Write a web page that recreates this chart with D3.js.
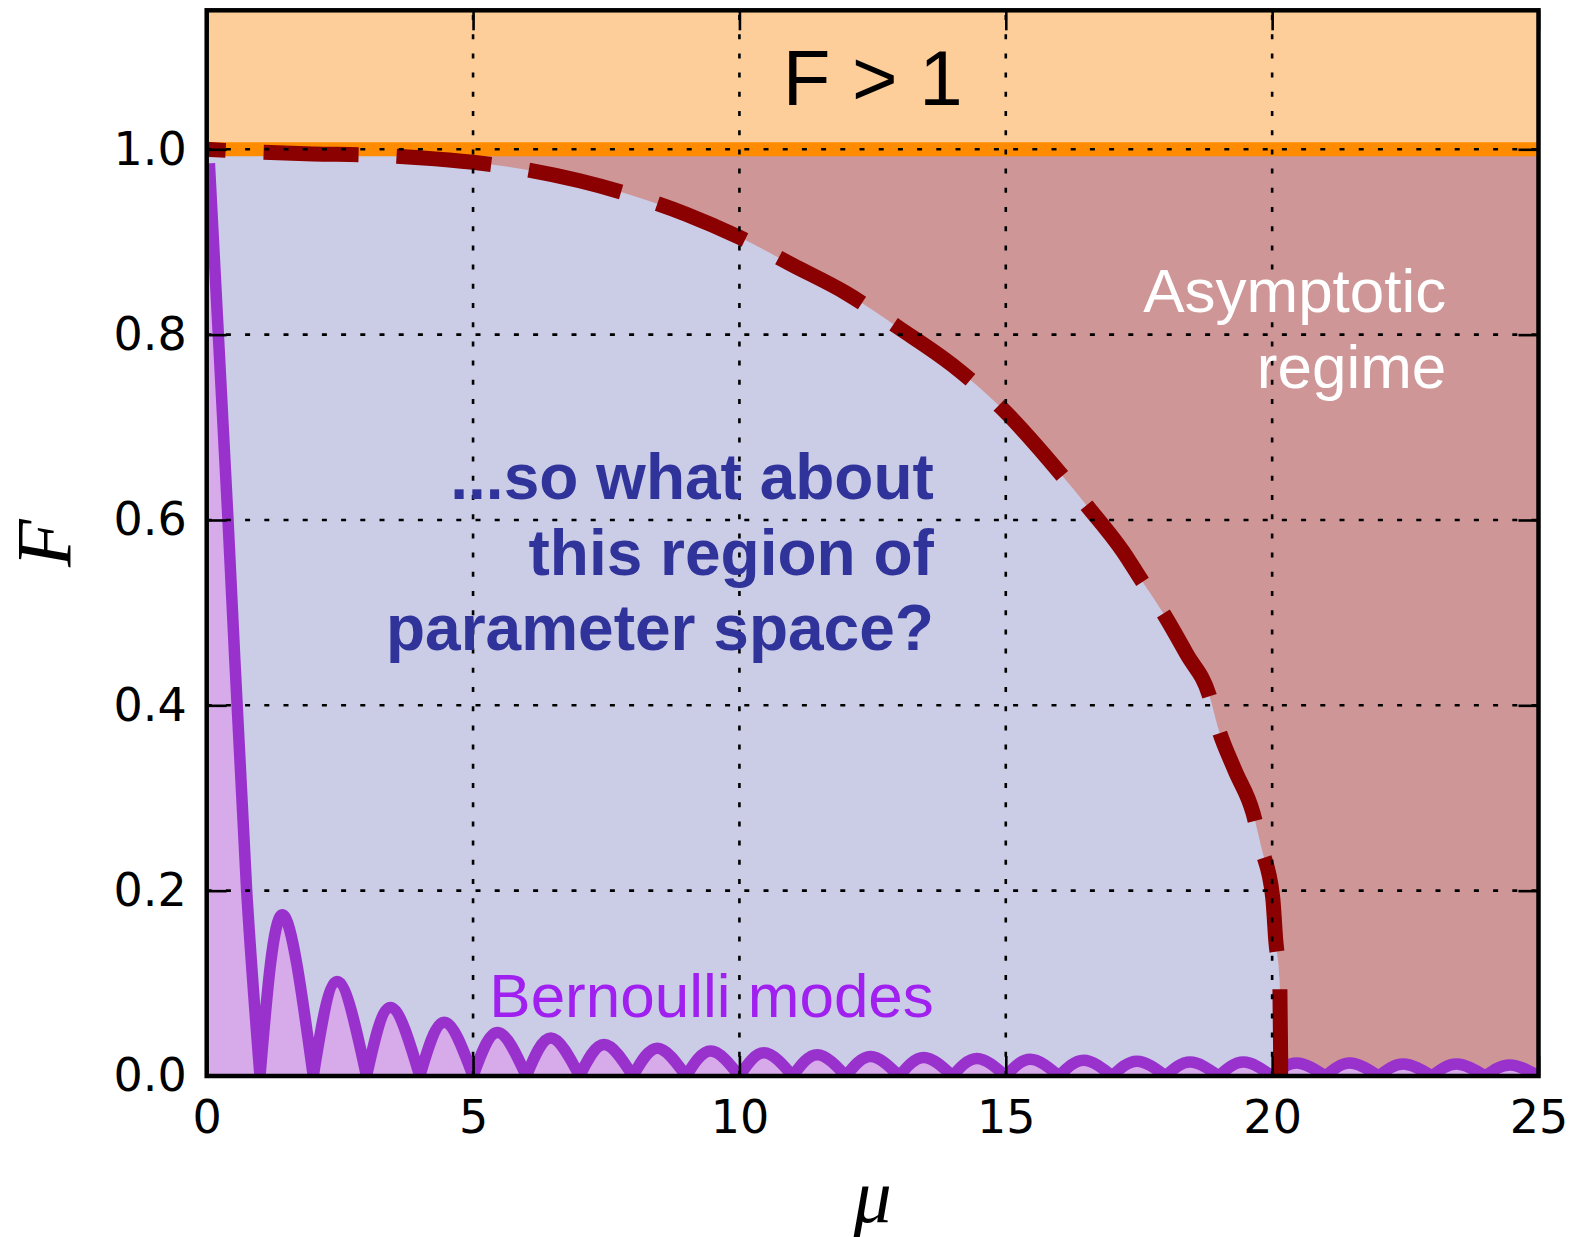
<!DOCTYPE html>
<html>
<head>
<meta charset="utf-8">
<script src="https://cdn.jsdelivr.net/npm/d3@7"></script>
<style>
  html, body { margin: 0; padding: 0; background: #ffffff; }
  svg { display: block; }
</style>
</head>
<body>
<svg id="chart" width="1574" height="1237"></svg>
<script>
// ---- axis ticks ----
const xTicks = [0, 5, 10, 15, 20, 25];
const yTicks = [0.0, 0.2, 0.4, 0.6, 0.8, 1.0];

// ---- boundary of the asymptotic regime (mu, F) ----
const boundaryMu = [0, 1, 2, 3, 4, 5, 6, 7, 8, 9, 10, 11, 12, 13, 14, 14.9, 16.1, 16.5, 17.2, 17.57,
                    17.95, 18.4, 18.83, 18.98, 19.3, 19.64, 19.8, 20.01, 20.07, 20.14, 20.16, 20.16];
const boundaryF  = [1.0, 0.997, 0.995, 0.994, 0.991, 0.986, 0.978, 0.966, 0.95, 0.93, 0.905, 0.875, 0.845, 0.807, 0.767, 0.722, 0.645, 0.617, 0.566, 0.533,
                    0.5, 0.455, 0.409, 0.377, 0.33, 0.284, 0.246, 0.193, 0.145, 0.104, 0.02, -0.02];

// ---- Bernoulli modes: first branch, then one lobe per unit interval ----
const firstLobeMu = [0.05, 0.4, 0.75, 1.0];
const firstLobeF  = [0.985, 0.60, 0.20, 0.0];
const lobeStart   = [1, 2, 3, 4, 5, 6, 7, 8, 9, 10, 11, 12, 13, 14, 15, 16, 17, 18, 19, 20, 21, 22, 23, 24];
const lobePeakMu  = [1.42, 2.45, 3.45, 4.46, 5.46, 6.46, 7.46, 8.46, 9.46, 10.46, 11.46, 12.46, 13.46, 14.46, 15.46, 16.46, 17.46, 18.46, 19.46, 20.46, 21.46, 22.46, 23.46, 24.46];
const lobePeakF   = [0.174, 0.102, 0.074, 0.058, 0.047, 0.041, 0.034, 0.030, 0.027, 0.025, 0.023, 0.021, 0.020, 0.019, 0.018, 0.017, 0.016, 0.015, 0.015, 0.014, 0.014, 0.013, 0.013, 0.012];

// ---- layout ----
const svg = d3.select("#chart");
const L = 206.7, R = 1538.5, T = 10.3, B = 1076;
const x = d3.scaleLinear().domain([0, 25]).range([L, R]);
const y = d3.scaleLinear().domain([0, 1.15]).range([B, T]);

const colors = {
  above: "#fdce99",
  asym: "#ce9697",
  inner: "#cbcce6",
  bernFill: "#d7aaea",
  bernLine: "#9932cc",
  unity: "#ff8c00",
  boundary: "#8b0000"
};

svg.append("defs").append("clipPath").attr("id", "plotClip")
  .append("rect").attr("x", L).attr("y", T).attr("width", R - L).attr("height", B - T);

const plot = svg.append("g").attr("clip-path", "url(#plotClip)");

// background regions
plot.append("rect")
  .attr("x", x(0)).attr("y", y(1.15))
  .attr("width", x(25) - x(0)).attr("height", y(1.0) - y(1.15))
  .attr("fill", colors.above);
plot.append("rect")
  .attr("x", x(0)).attr("y", y(1.0))
  .attr("width", x(25) - x(0)).attr("height", y(0) - y(1.0))
  .attr("fill", colors.asym);

// region under the boundary curve
const boundary = boundaryMu.map((m, i) => [m, boundaryF[i]]);
const bArea = d3.area().x(d => x(d[0])).y0(y(0)).y1(d => y(Math.max(d[1], 0))).curve(d3.curveMonotoneX);
plot.append("path").datum(boundary.slice(0, boundary.length - 1)).attr("d", bArea).attr("fill", colors.inner);

// Bernoulli modes
const firstLobe = firstLobeMu.map((m, i) => [m, firstLobeF[i]]);
const lobes = lobeStart.map((s, i) => [[s, 0], [lobePeakMu[i], lobePeakF[i]], [s + 1, 0]]);
const firstArea = d3.area().x(d => x(d[0])).y0(y(0)).y1(d => y(d[1])).curve(d3.curveMonotoneX);
const firstLine = d3.line().x(d => x(d[0])).y(d => y(d[1])).curve(d3.curveMonotoneX);
const lobeArea = d3.area().x(d => x(d[0])).y0(y(0)).y1(d => y(d[1])).curve(d3.curveNatural);
const lobeLine = d3.line().x(d => x(d[0])).y(d => y(d[1])).curve(d3.curveNatural);

const bern = plot.append("g");
bern.append("path").datum([[firstLobe[0][0], 0], ...firstLobe]).attr("d", firstArea).attr("fill", colors.bernFill);
bern.selectAll("path.lobe").data(lobes).join("path").attr("class", "lobe")
  .attr("d", lobeArea).attr("fill", colors.bernFill);
bern.append("path")
  .attr("d", firstLine(firstLobe) + lobes.map(l => lobeLine(l)).join(""))
  .attr("fill", "none").attr("stroke", colors.bernLine).attr("stroke-width", 11.5)
  .attr("stroke-linejoin", "round");

// F = 1 line
plot.append("line")
  .attr("x1", x(0)).attr("x2", x(25)).attr("y1", y(1)).attr("y2", y(1))
  .attr("stroke", colors.unity).attr("stroke-width", 14);

// dashed boundary curve
const bLine = d3.line().x(d => x(d[0])).y(d => y(d[1])).curve(d3.curveMonotoneX);
plot.append("path").datum(boundary).attr("d", bLine)
  .attr("fill", "none").attr("stroke", colors.boundary).attr("stroke-width", 15)
  .attr("stroke-dasharray", "95 38").attr("stroke-dashoffset", 76);

// dotted grid
const grid = svg.append("g").attr("stroke", "#000").attr("stroke-width", 2.6)
  .attr("stroke-dasharray", "5 14.2").attr("fill", "none");
xTicks.forEach(t => grid.append("line").attr("x1", x(t)).attr("x2", x(t)).attr("y1", B).attr("y2", T));
yTicks.forEach(t => grid.append("line").attr("x1", L).attr("x2", R).attr("y1", y(t)).attr("y2", y(t)));

// axes with inward ticks
const tickFont = "'DejaVu Sans', sans-serif";
function styleAxis(g) {
  g.select(".domain").remove();
  g.selectAll(".tick line").attr("stroke", "#000").attr("stroke-width", 2.6);
  g.selectAll(".tick text").attr("fill", "#000").style("font-family", tickFont).style("font-size", "46px");
}
svg.append("g").attr("transform", `translate(0,${B})`)
  .call(d3.axisBottom(x).tickValues(xTicks).tickSize(-20).tickSizeOuter(0).tickPadding(24).tickFormat(d3.format("d")))
  .call(styleAxis);
svg.append("g").attr("transform", `translate(0,${T})`)
  .call(d3.axisTop(x).tickValues(xTicks).tickSize(-20).tickSizeOuter(0).tickFormat(""))
  .call(styleAxis);
svg.append("g").attr("transform", `translate(${L},0)`)
  .call(d3.axisLeft(y).tickValues(yTicks).tickSize(-20).tickSizeOuter(0).tickPadding(20).tickFormat(d3.format(".1f")))
  .call(styleAxis);
svg.append("g").attr("transform", `translate(${R},0)`)
  .call(d3.axisRight(y).tickValues(yTicks).tickSize(-20).tickSizeOuter(0).tickFormat(""))
  .call(styleAxis);

// frame
svg.append("rect").attr("x", L).attr("y", T).attr("width", R - L).attr("height", B - T)
  .attr("fill", "none").attr("stroke", "#000").attr("stroke-width", 4.5);

// axis labels
svg.append("text").attr("transform", `translate(${x(12.5)},1222)`)
  .attr("text-anchor", "middle").style("font-family", "'Liberation Serif', serif")
  .style("font-style", "italic").style("font-size", "76px").text("μ");
svg.append("text").attr("transform", `translate(70,${y(0.575)}) rotate(-90)`)
  .attr("text-anchor", "middle").style("font-family", "'Liberation Serif', serif")
  .style("font-style", "italic").style("font-size", "78px").text("F");

// annotations
const sans = "'Liberation Sans', Arial, sans-serif";
svg.append("text").attr("x", x(12.5)).attr("y", y(1.048))
  .attr("text-anchor", "middle").style("font-family", sans).style("font-size", "78px")
  .attr("fill", "#000").text("F > 1");

const asymLines = ["Asymptotic", "regime"];
const asymBase = [0.824, 0.742];
asymLines.forEach((s, i) => svg.append("text")
  .attr("x", x(23.27)).attr("y", y(asymBase[i])).attr("text-anchor", "end")
  .style("font-family", sans).style("font-size", "62px").attr("fill", "#ffffff").text(s));

const qLines = ["...so what about", "this region of", "parameter space?"];
const qBase = [0.623, 0.541, 0.46];
qLines.forEach((s, i) => svg.append("text")
  .attr("x", x(13.65)).attr("y", y(qBase[i])).attr("text-anchor", "end")
  .style("font-family", sans).style("font-weight", "bold").style("font-size", "64px")
  .attr("fill", "#30339a").text(s));

svg.append("text").attr("x", x(13.65)).attr("y", y(0.064)).attr("text-anchor", "end")
  .style("font-family", sans).style("font-size", "62px").attr("fill", "#a020f0").text("Bernoulli modes");
</script>
</body>
</html>
